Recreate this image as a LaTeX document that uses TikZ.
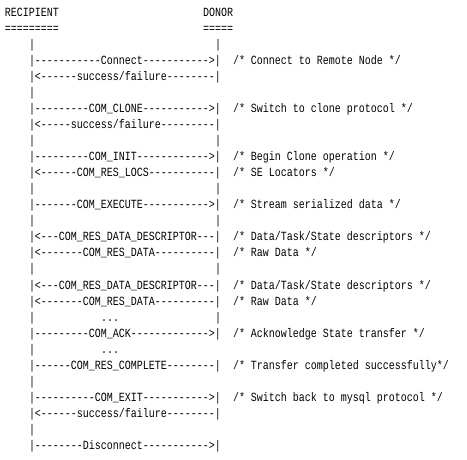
\documentclass[tikz,border=0pt]{standalone}
\usepackage{fontspec}
\setmonofont[FakeStretch=0.8]{Liberation Mono}
\tikzset{
  asc/.style={inner sep=0pt, outer sep=0pt, anchor=base west, text=black,
    font=\ttfamily\fontsize{12.5}{16}\selectfont}
}
\newcommand\asctxt[4]{\node[asc] (#1) at ({5pt+6pt*#2},{-16.5pt-16.03pt*(#3-1)}) {#4};}
\begin{document}
\begin{tikzpicture}
\fill[white] (0,0) rectangle (467pt,-460pt);
\useasboundingbox (0,0) rectangle (467pt,-460pt);
% header
\asctxt{recip}{0}{1}{RECIPIENT}
\asctxt{donor}{33}{1}{DONOR}
\asctxt{recipu}{0}{2}{=========}
\asctxt{donoru}{33}{2}{=====}
% line 3
\asctxt{l3a}{4}{3}{|}
\asctxt{l3b}{35}{3}{|}
% 4
\asctxt{l4}{4}{4}{|-----------Connect----------->|}
\asctxt{c4}{38}{4}{/* Connect to Remote Node */}
% 5
\asctxt{l5}{4}{5}{|<------success/failure--------|}
% 6
\asctxt{l6}{4}{6}{|}
% 7
\asctxt{l7}{4}{7}{|---------COM\_CLONE----------->|}
\asctxt{c7}{38}{7}{/* Switch to clone protocol */}
% 8
\asctxt{l8}{4}{8}{|<-----success/failure---------|}
% 9
\asctxt{l9a}{4}{9}{|}
\asctxt{l9b}{35}{9}{|}
% 10
\asctxt{l10}{4}{10}{|---------COM\_INIT------------>|}
\asctxt{c10}{38}{10}{/* Begin Clone operation */}
% 11
\asctxt{l11}{4}{11}{|<------COM\_RES\_LOCS-----------|}
\asctxt{c11}{38}{11}{/* SE Locators */}
% 12
\asctxt{l12a}{4}{12}{|}
\asctxt{l12b}{35}{12}{|}
% 13
\asctxt{l13}{4}{13}{|-------COM\_EXECUTE----------->|}
\asctxt{c13}{38}{13}{/* Stream serialized data */}
% 14
\asctxt{l14a}{4}{14}{|}
\asctxt{l14b}{35}{14}{|}
% 15
\asctxt{l15}{4}{15}{|<---COM\_RES\_DATA\_DESCRIPTOR---|}
\asctxt{c15}{38}{15}{/* Data/Task/State descriptors */}
% 16
\asctxt{l16}{4}{16}{|<-------COM\_RES\_DATA----------|}
\asctxt{c16}{38}{16}{/* Raw Data */}
% 17
\asctxt{l17a}{4}{17}{|}
\asctxt{l17b}{35}{17}{|}
% 18
\asctxt{l18}{4}{18}{|<---COM\_RES\_DATA\_DESCRIPTOR---|}
\asctxt{c18}{38}{18}{/* Data/Task/State descriptors */}
% 19
\asctxt{l19}{4}{19}{|<-------COM\_RES\_DATA----------|}
\asctxt{c19}{38}{19}{/* Raw Data */}
% 20
\asctxt{l20a}{4}{20}{|}
\asctxt{l20d}{16}{20}{...}
\asctxt{l20b}{35}{20}{|}
% 21
\asctxt{l21}{4}{21}{|---------COM\_ACK------------->|}
\asctxt{c21}{38}{21}{/* Acknowledge State transfer */}
% 22
\asctxt{l22a}{4}{22}{|}
\asctxt{l22d}{16}{22}{...}
% 23
\asctxt{l23}{4}{23}{|------COM\_RES\_COMPLETE--------|}
\asctxt{c23}{38}{23}{/* Transfer completed successfully*/}
% 24
\asctxt{l24}{4}{24}{|}
% 25
\asctxt{l25}{4}{25}{|----------COM\_EXIT----------->|}
\asctxt{c25}{38}{25}{/* Switch back to mysql protocol */}
% 26
\asctxt{l26}{4}{26}{|<------success/failure--------|}
% 27
\asctxt{l27}{4}{27}{|}
% 28
\asctxt{l28}{4}{28}{|--------Disconnect----------->|}
\end{tikzpicture}
\end{document}
